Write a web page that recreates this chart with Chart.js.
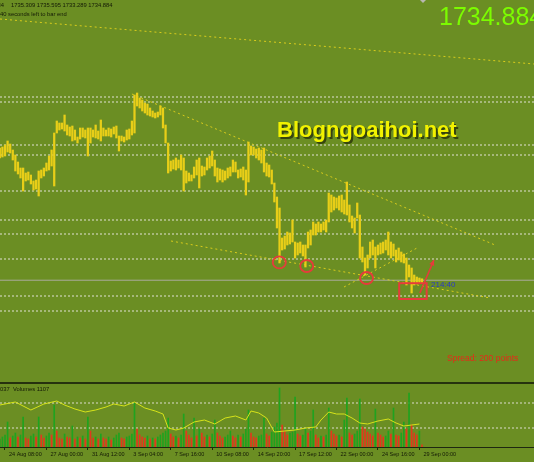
<!DOCTYPE html>
<html>
<head>
<meta charset="utf-8">
<script src="https://cdn.jsdelivr.net/npm/chart.js@4.4.0/dist/chart.umd.min.js"></script>
<style>
  html, body { margin: 0; padding: 0; background: #6b8e23; }
  canvas { display: block; }
</style>
</head>
<body>
<canvas id="chart" width="534" height="462"></canvas>
<script>
// H4 bars (index 0 = first bar on the left)
const barHigh = [
  1801, 1801.5, 1802.5, 1804.5, 1803, 1800, 1797.5, 1794, 1791, 1791,
  1788.5, 1789, 1787.5, 1784.5, 1785, 1789.5, 1790, 1791, 1793.5, 1797,
  1800, 1808.5, 1814.5, 1813.5, 1813.5, 1817.5, 1812.5, 1811.5, 1812, 1810,
  1806.5, 1811, 1811, 1810, 1811, 1811, 1810, 1812.5, 1809.5, 1815,
  1811, 1810, 1811, 1810.5, 1811.5, 1812, 1807, 1807, 1806.5, 1810,
  1810.5, 1814.5, 1827.5, 1828.5, 1826, 1825, 1823.5, 1823, 1821, 1819.5,
  1818.5, 1819, 1822, 1821, 1812.5, 1803.5, 1794.5, 1795, 1796, 1795,
  1797.5, 1796, 1789.5, 1788.5, 1787.5, 1791.5, 1795, 1796, 1792, 1791.5,
  1796, 1797, 1799.5, 1795, 1791, 1790.5, 1790, 1789.5, 1791, 1791.5,
  1795, 1794, 1790, 1790.5, 1791.5, 1790, 1804, 1802, 1801.5, 1800.5,
  1801, 1800, 1801, 1793.5, 1792.5, 1790, 1783.5, 1776.5, 1771, 1756,
  1757, 1759, 1758.5, 1765, 1754, 1753.5, 1754, 1752.5, 1752.5, 1759,
  1760, 1764, 1763, 1764, 1763, 1764, 1765, 1778.5, 1777.5, 1776.5,
  1776, 1777, 1777.5, 1775, 1784, 1772.5, 1767, 1766, 1773.5, 1767.5,
  1751.5, 1746, 1747.5, 1754, 1755, 1751.5, 1752.5, 1753.5, 1754, 1755,
  1759, 1754, 1753, 1750, 1751, 1749, 1748, 1746, 1742.5, 1741,
  1737.5, 1736.5, 1736, 1735.595
];
const barLow = [
  1796, 1796.5, 1797, 1799, 1798.5, 1795, 1789.5, 1788, 1786, 1779.5,
  1784.5, 1785, 1783, 1780, 1780.5, 1777, 1786, 1787, 1789.5, 1790,
  1792, 1782, 1808.5, 1810, 1810.5, 1809.5, 1807.5, 1807, 1804.5, 1805,
  1803.5, 1805.5, 1806.5, 1806, 1797, 1803.5, 1806.5, 1806, 1805.5, 1804.5,
  1807, 1807, 1807, 1806.5, 1808, 1806, 1799.5, 1804.5, 1804, 1805,
  1805.5, 1807.5, 1808.5, 1822, 1821, 1819.5, 1818.5, 1817.5, 1817, 1816.5,
  1816, 1816.5, 1817.5, 1811, 1803.5, 1788.5, 1789.5, 1790.5, 1790, 1791,
  1790, 1779.5, 1783.5, 1784.5, 1784.5, 1786, 1787.5, 1781, 1787, 1787.5,
  1790, 1791, 1792, 1787, 1784, 1785, 1784, 1785, 1786, 1787,
  1789, 1789, 1786, 1786.5, 1785, 1777.5, 1784, 1797.5, 1797.5, 1796,
  1795, 1793.5, 1789, 1787, 1786.5, 1783, 1774, 1761, 1743.5, 1750,
  1750.5, 1752.5, 1753, 1754, 1746, 1747.5, 1748.5, 1747, 1741.5, 1751,
  1752.5, 1757.5, 1757.5, 1759, 1759, 1760, 1759, 1764, 1769, 1770,
  1771, 1770, 1769, 1768, 1767.5, 1764, 1761, 1758.5, 1766, 1746,
  1744, 1737.5, 1741, 1746, 1747.5, 1741, 1747.5, 1748, 1748.5, 1750,
  1747.5, 1746, 1747, 1744, 1745, 1744, 1743.5, 1732.5, 1736.5, 1728.5,
  1732.5, 1733, 1733.5, 1733.289
];
const volumes = [
  4000, 5000, 6000, 12500, 4500, 5500, 7000, 5000, 6000, 15000,
  4500, 4000, 5500, 6500, 5000, 15000, 6000, 4500, 5500, 7000,
  6000, 21000, 8000, 4500, 4000, 6500, 5000, 4500, 10500, 4000,
  5000, 4500, 5500, 4000, 15000, 8000, 4500, 5000, 4000, 6500,
  4500, 4000, 5000, 3500, 4500, 6000, 7000, 4500, 4000, 5000,
  5500, 6500, 22000, 9000, 6000, 5000, 4500, 5500, 4000, 4500,
  4000, 5000, 6000, 7000, 8000, 14500, 6500, 5000, 5500, 4500,
  6000, 16500, 8000, 6000, 4500, 14500, 5500, 9000, 7000, 5000,
  6000, 5000, 6500, 13500, 7000, 5500, 4500, 5000, 6000, 8000,
  5500, 4500, 6000, 5000, 6500, 9000, 18500, 7000, 5000, 4500,
  5500, 6000, 14500, 6500, 5500, 7500, 10000, 12000, 29500, 11000,
  8000, 6000, 7000, 7500, 25000, 6500, 5500, 6000, 9000, 7000,
  8000, 18500, 6000, 4500, 5500, 5000, 6000, 19500, 8000, 6500,
  5500, 6000, 5000, 13500, 24500, 7000, 6000, 6500, 8000, 24000,
  10000, 9000, 7500, 6500, 5500, 19000, 7000, 6000, 5000, 5500,
  8000, 6500, 19500, 6000, 5500, 7000, 12500, 9000, 27000, 11000,
  7000, 6000, 8000, 1107
];
// yellow line in the volume window, read at these bar indices
const volLineIdx = [0, 6, 12, 17, 22, 25, 29, 33, 37, 41, 44, 48, 52, 56, 60, 63, 65, 68, 71, 75,
  79, 83, 87, 91, 95, 97, 100, 103, 106, 110, 114, 118, 122, 124, 127, 130, 133, 136, 139, 142,
  146, 150, 153, 156, 159, 162];
const volLine = [21000, 22500, 18500, 21500, 23000, 21000, 19000, 17500, 18500, 20000, 21500, 20500,
  22500, 19500, 18000, 16500, 9500, 8500, 9500, 12500, 13500, 11500, 14500, 15500, 13500, 18000,
  17000, 14500, 7500, 8000, 8500, 9500, 10000, 13500, 17500, 16500, 16500, 14500, 12000, 11500,
  13000, 14000, 12000, 10500, 11000, 11500];

const tickIdx = [2, 18, 34, 50, 66, 82, 98, 114, 130, 146, 162];
const tickLabels = ['24 Aug 08:00', '27 Aug 00:00', '31 Aug 12:00', '3 Sep 04:00', '7 Sep 16:00',
  '10 Sep 08:00', '14 Sep 20:00', '17 Sep 12:00', '22 Sep 00:00', '24 Sep 16:00', '29 Sep 00:00'];

const levels = [1826.5, 1824, 1802.5, 1797.5, 1779.5, 1765, 1758, 1745.5, 1727, 1719.5];
const volLevels = [22000, 9500];
const bidPrice = 1734.884;
const volTop = 32000;

// drawn objects, in [bar index, price]
const trendLines = [
  [[0.07, 1865.5], [206.25, 1843]],
  [[51, 1828], [191.2, 1752.5]],
  [[66.1, 1754.5], [189.3, 1726]],
  [[132.9, 1731.5], [161.8, 1751.5]]
];
const circles = [[107.9, 1743.8], [118.5, 1742], [141.6, 1736]];
const box = [154.2, 1733.4, 164.8, 1725.5];
const arrow = [[162.2, 1728.5], [167.6, 1745]];

const xMin = 0.07, xMax = 206.25;
const FONT = '"Liberation Sans", Arial, sans-serif';

const volColors = volumes.map((v, i) => (i === 0 || v >= volumes[i - 1]) ? '#1fa31f' : '#e2381c');

const datasets = [];
levels.forEach(p => datasets.push({
  type: 'line', data: [{x: xMin, y: p}, {x: xMax, y: p}],
  borderColor: '#e2e2d4', borderWidth: 1, borderDash: [2, 2], pointRadius: 0, order: 5
}));
volLevels.forEach(v => datasets.push({
  type: 'line', yAxisID: 'yVol', data: [{x: xMin, y: v}, {x: xMax, y: v}],
  borderColor: '#dcdccc', borderWidth: 1, borderDash: [2, 2], pointRadius: 0, order: 5
}));
datasets.push({
  type: 'line', data: [{x: xMin, y: bidPrice}, {x: xMax, y: bidPrice}],
  borderColor: '#a9ab9c', borderWidth: 1, pointRadius: 0, order: 5
});
trendLines.forEach(l => datasets.push({
  type: 'line', data: l.map(p => ({x: p[0], y: p[1]})),
  borderColor: '#d9cc1c', borderWidth: 1, borderDash: [2, 3], pointRadius: 0, order: 3
}));
datasets.push({
  type: 'bar', grouped: false, barThickness: 1.6,
  data: barHigh.map((h, i) => ({x: i, y: [barLow[i], h]})),
  backgroundColor: '#e8ce18', borderWidth: 0, order: 2
});
datasets.push({
  type: 'bar', grouped: false, barThickness: 1, yAxisID: 'yVol',
  data: volumes.map((v, i) => ({x: i, y: v})),
  backgroundColor: volColors, borderWidth: 0, order: 4
});
datasets.push({
  type: 'line', yAxisID: 'yVol',
  data: volLineIdx.map((x, i) => ({x: x, y: volLine[i]})),
  borderColor: '#d6e31a', borderWidth: 1, pointRadius: 0, tension: 0, order: 1
});

const extras = {
  id: 'extras',
  beforeDatasetsDraw(chart) {
    const {ctx, scales} = chart;
    ctx.save();
    ctx.font = 'bold 22px ' + FONT;
    ctx.fillStyle = 'rgba(45,55,10,0.85)';
    ctx.fillText('Blogngoaihoi.net', 279, 139);
    ctx.fillStyle = '#f2f200';
    ctx.fillText('Blogngoaihoi.net', 277, 137);
    // window separator
    const ys = Math.round(scales.yVol.getPixelForValue(volTop));
    ctx.fillStyle = '#26320e';
    ctx.fillRect(0, ys - 1, chart.width, 2);
    ctx.restore();
  },
  afterDatasetsDraw(chart) {
    const {ctx, scales} = chart;
    const X = v => scales.x.getPixelForValue(v);
    const Y = v => scales.y.getPixelForValue(v);
    ctx.save();
    ctx.strokeStyle = '#e63b3b';
    ctx.lineWidth = 1.8;
    circles.forEach(c => {
      ctx.beginPath();
      ctx.ellipse(X(c[0]), Y(c[1]), 6.5, 6, 0, 0, Math.PI * 2);
      ctx.stroke();
    });
    ctx.lineWidth = 2;
    ctx.strokeRect(X(box[0]), Y(box[1]), X(box[2]) - X(box[0]), Y(box[3]) - Y(box[1]));
    const x1 = X(arrow[0][0]), y1 = Y(arrow[0][1]), x2 = X(arrow[1][0]), y2 = Y(arrow[1][1]);
    ctx.lineWidth = 1.6;
    ctx.beginPath(); ctx.moveTo(x1, y1); ctx.lineTo(x2, y2); ctx.stroke();
    const a = Math.atan2(y2 - y1, x2 - x1);
    ctx.fillStyle = '#e63b3b';
    ctx.beginPath();
    ctx.moveTo(x2, y2);
    ctx.lineTo(x2 - 6 * Math.cos(a - 0.45), y2 - 6 * Math.sin(a - 0.45));
    ctx.lineTo(x2 - 6 * Math.cos(a + 0.45), y2 - 6 * Math.sin(a + 0.45));
    ctx.closePath(); ctx.fill();

    // texts
    ctx.fillStyle = '#141a06';
    ctx.font = '5.8px ' + FONT;
    ctx.textAlign = 'right';
    ctx.fillText('XAUUSD,H4', 4, 7);
    ctx.textAlign = 'left';
    ctx.fillText('1735.309 1735.595 1733.289 1734.884', 11, 7);
    ctx.fillText('40 seconds left to bar end', 0, 15.5);
    ctx.fillText('037  Volumes 1107', 0, 391);

    ctx.font = '25px ' + FONT;
    ctx.fillStyle = '#7cfc00';
    ctx.fillText('1734.884', 439, 25);

    ctx.font = '8px ' + FONT;
    ctx.fillStyle = '#2a3ac8';
    ctx.fillText('214:40', 431, 287);

    ctx.font = '8.5px ' + FONT;
    ctx.fillStyle = '#e62a18';
    ctx.fillText('Spread: 200 points', 447, 360.5);

    ctx.fillStyle = '#b8b8b0';
    ctx.beginPath(); ctx.moveTo(420, 0); ctx.lineTo(426, 0); ctx.lineTo(423, 3); ctx.closePath(); ctx.fill();
    ctx.restore();
  }
};

new Chart(document.getElementById('chart'), {
  data: {datasets: datasets},
  options: {
    responsive: false,
    animation: false,
    devicePixelRatio: 1,
    layout: {padding: 0},
    plugins: {legend: {display: false}, tooltip: {enabled: false}},
    scales: {
      x: {
        type: 'linear', position: 'bottom', min: xMin, max: xMax, offset: false,
        afterBuildTicks: s => { s.ticks = tickIdx.map(v => ({value: v})); },
        afterFit: s => { s.height = 15; s.paddingLeft = 0; s.paddingRight = 0; },
        ticks: {
          autoSkip: false, maxRotation: 0, align: 'start', labelOffset: 4, padding: 1,
          color: '#141a06', font: {size: 5.5, family: FONT},
          callback: v => tickLabels[tickIdx.indexOf(v)]
        },
        grid: {offset: false, drawOnChartArea: false, drawTicks: true, tickLength: 3, color: '#1e2810'},
        border: {display: true, color: '#1e2810', width: 1}
      },
      y: {type: 'linear', min: 1651.5, max: 1875, display: false},
      yVol: {type: 'linear', min: 0, max: 223500, display: false}
    }
  },
  plugins: [extras]
});
</script>
</body>
</html>
